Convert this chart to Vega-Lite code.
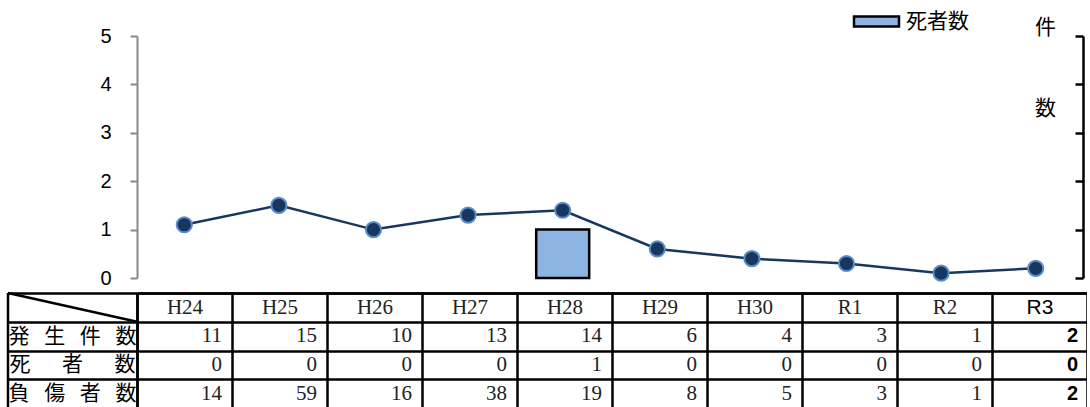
{
  "$schema": "https://vega.github.io/schema/vega-lite/v6.json",
  "padding": {"left": 6, "top": 9, "right": 0, "bottom": 0},
  "data": {"values": [
    {"year": "H24", "発生件数": 11, "死者数": 0, "負傷者数": 14},
    {"year": "H25", "発生件数": 15, "死者数": 0, "負傷者数": 59},
    {"year": "H26", "発生件数": 10, "死者数": 0, "負傷者数": 16},
    {"year": "H27", "発生件数": 13, "死者数": 0, "負傷者数": 38},
    {"year": "H28", "発生件数": 14, "死者数": 1, "負傷者数": 19},
    {"year": "H29", "発生件数": 6, "死者数": 0, "負傷者数": 8},
    {"year": "H30", "発生件数": 4, "死者数": 0, "負傷者数": 5},
    {"year": "R1", "発生件数": 3, "死者数": 0, "負傷者数": 3},
    {"year": "R2", "発生件数": 1, "死者数": 0, "負傷者数": 1},
    {"year": "R3", "発生件数": 2, "死者数": 0, "負傷者数": 2}
  ]},
  "spacing": -6,
  "vconcat": [
    {
      "width": 946,
      "height": 242,
      "encoding": {
        "x": {"field": "year", "type": "nominal",
          "scale": {"domain": ["H24","H25","H26","H27","H28","H29","H30","R1","R2","R3"], "paddingInner": 0, "paddingOuter": 0},
          "axis": null}
      },
      "layer": [
        {
          "transform": [{"filter": "datum['死者数'] > 0"}],
          "mark": {"type": "bar", "stroke": "black", "strokeWidth": 2.5, "width": {"band": 0.56}},
          "encoding": {
            "y": {"field": "死者数", "type": "quantitative", "scale": {"domain": [0, 5]},
              "axis": {"orient": "left", "values": [0,1,2,3,4,5], "title": null, "grid": false,
                "domainColor": "#888888", "domainWidth": 2, "tickColor": "#888888", "tickWidth": 2, "tickSize": 7,
                "labelFont": "Liberation Sans", "labelFontSize": 20, "labelColor": "black", "labelPadding": 19}},
            "fill": {"datum": "死者数", "type": "nominal", "scale": {"range": ["#8DB4E2"]},
              "legend": {"orient": "none", "legendX": 727, "legendY": -27, "title": null,
                "symbolType": "M-2,-0.44H2V0.44H-2Z", "symbolSize": 506, "symbolStrokeColor": "black", "symbolStrokeWidth": 2.5,
                "labelFont": "Noto Sans CJK JP", "labelFontSize": 21, "labelColor": "black", "labelOffset": 17}}
          }
        },
        {
          "mark": {"type": "line", "color": "#17375E", "strokeWidth": 2.5,
            "point": {"filled": true, "fill": "#17375E", "stroke": "#5B8BC8", "strokeWidth": 2, "size": 230}},
          "encoding": {
            "y": {"field": "発生件数", "type": "quantitative", "scale": {"domain": [0, 50]},
              "axis": {"orient": "right", "values": [0,10,20,30,40,50], "labels": false, "grid": false,
                "domainColor": "black", "domainWidth": 2.5, "tickColor": "black", "tickWidth": 2.5, "tickSize": -8,
                "title": ["件", "数"], "titleAngle": 0, "titleX": -38, "titleY": -20, "titleAlign": "center", "titleBaseline": "top",
                "titleLineHeight": 81, "titleFont": "Noto Sans CJK JP", "titleFontSize": 21, "titleFontWeight": "normal", "titleColor": "black"}}
          }
        }
      ],
      "resolve": {"scale": {"y": "independent"}}
    },
    {
      "width": 950,
      "height": 115,
      "transform": [{"fold": ["発生件数", "死者数", "負傷者数"], "as": ["metric", "value"]}],
      "encoding": {
        "x": {"field": "year", "type": "nominal",
          "scale": {"domain": ["H24","H25","H26","H27","H28","H29","H30","R1","R2","R3"], "paddingInner": 0, "paddingOuter": 0},
          "axis": {"orient": "top", "title": null, "domain": true, "domainColor": "black", "domainWidth": 2.5,
            "ticks": false, "tickBand": "extent", "grid": true, "gridColor": "black", "gridWidth": 2.5, "gridOpacity": 1,
            "labelFont": {"condition": {"test": "datum.value == 'R3'", "value": "Liberation Sans"}, "value": "Liberation Serif"},
            "labelColor": {"condition": {"test": "datum.value == 'R3'", "value": "black"}, "value": "#222222"},
            "labelFontSize": 21, "labelPadding": -14, "labelBaseline": "middle", "labelAngle": 0, "labelOverlap": false}},
        "y": {"field": "metric", "type": "nominal",
          "scale": {"domain": ["年", "発生件数", "死者数", "負傷者数"], "paddingInner": 0, "paddingOuter": 0},
          "axis": {"title": null, "domain": true, "domainColor": "black", "domainWidth": 2.5,
            "ticks": true, "tickBand": "extent", "tickSize": 129, "tickColor": "black", "tickWidth": 2.5,
            "grid": true, "gridColor": "black", "gridWidth": 2.5, "gridOpacity": 1,
            "labelFont": "Noto Sans CJK JP", "labelFontSize": 21, "labelColor": "black", "labelAlign": "center", "labelBaseline": "middle",
            "labelPadding": -64, "labelOverlap": false,
            "labelExpr": "datum.value == '発生件数' ? '発\u2002\u2009生\u2002\u2009件\u2002\u2009数' : datum.value == '死者数' ? '死\u2003\u2002者\u2003\u2002数' : datum.value == '負傷者数' ? '負\u2002\u2009傷\u2002\u2009者\u2002\u2009数' : ''"}}
      },
      "layer": [
        {
          "transform": [{"filter": "datum.year != 'R3'"}],
          "mark": {"type": "text", "align": "right", "baseline": "middle", "dx": -10, "font": "Liberation Serif", "fontSize": 21, "color": "#222222"},
          "encoding": {"x": {"field": "year", "type": "nominal", "bandPosition": 1}, "text": {"field": "value", "type": "quantitative"}}
        },
        {
          "transform": [{"filter": "datum.year == 'R3'"}],
          "mark": {"type": "text", "align": "right", "baseline": "middle", "dx": -9, "font": "Liberation Sans", "fontWeight": "bold", "fontSize": 20, "color": "black"},
          "encoding": {"x": {"field": "year", "type": "nominal", "bandPosition": 1}, "text": {"field": "value", "type": "quantitative"}}
        },
        {
          "transform": [{"filter": "datum.year == 'H24' && datum.metric == '発生件数'"}],
          "mark": {"type": "rule", "color": "black", "strokeWidth": 2.5, "xOffset": -129},
          "encoding": {
            "x": {"datum": "H24", "type": "nominal", "bandPosition": 0},
            "y": {"value": 0},
            "y2": {"value": "height"}
          }
        },
        {
          "transform": [{"filter": "datum.year == 'H24' && datum.metric == '発生件数'"}],
          "mark": {"type": "rule", "color": "black", "strokeWidth": 2.5, "xOffset": -129},
          "encoding": {
            "x": {"datum": "H24", "type": "nominal", "bandPosition": 0},
            "x2": {"datum": "H24", "bandPosition": 0},
            "y": {"datum": "年", "type": "nominal", "bandPosition": 0},
            "y2": {"datum": "発生件数", "bandPosition": 0}
          }
        }
      ]
    }
  ],
  "config": {"view": {"stroke": null}, "font": "Liberation Sans"}
}
